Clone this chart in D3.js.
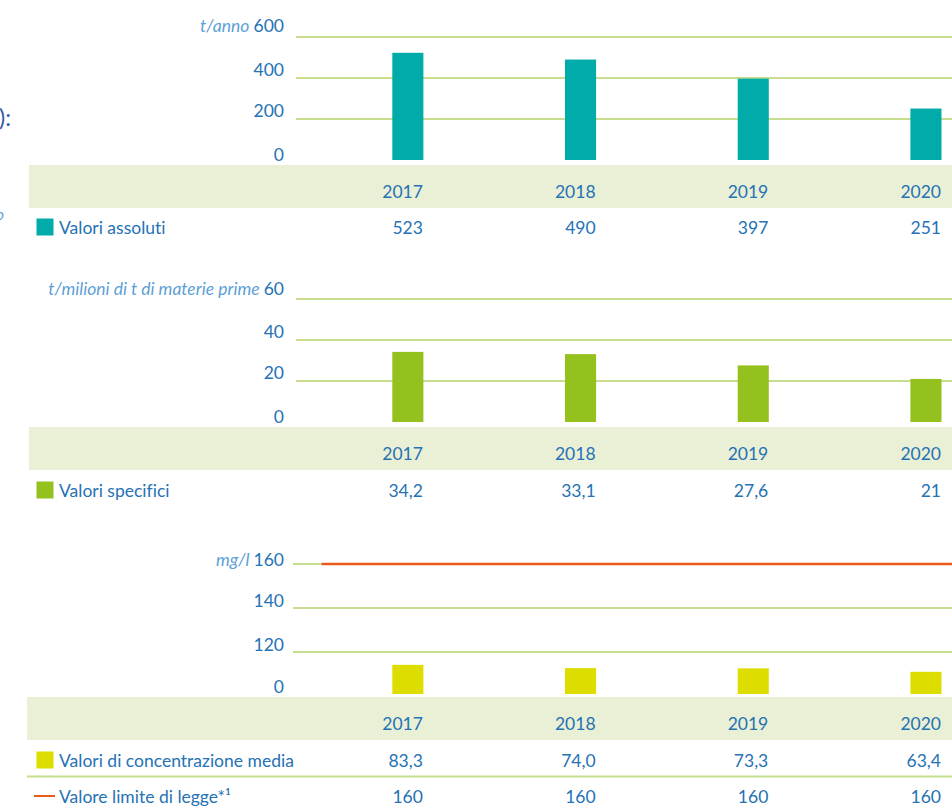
<!DOCTYPE html>
<html>
<head>
<meta charset="utf-8">
<script src="https://cdn.jsdelivr.net/npm/d3@7"></script>
<style>
  html, body { margin: 0; padding: 0; background: #ffffff; }
  svg { display: block; }
  text { font-family: Lato, "Open Sans", sans-serif; font-variant-ligatures: none; font-feature-settings: "liga" 0, "clig" 0; }
</style>
</head>
<body>
<svg id="chart" width="952" height="809"></svg>
<script>
// Categories
const years = ["2017", "2018", "2019", "2020"];

// Absolute emissions (t/anno)
const absValues = [523, 490, 397, 251];
const absTicks = [0, 200, 400, 600];

// Specific emissions (t per million t of raw materials)
const specValues = [34.2, 33.1, 27.6, 21];
const specTicks = [0, 20, 40, 60];

// Average concentration (mg/l) and legal limit
const concValues = [83.3, 74.0, 73.3, 63.4];
const limitValues = [160, 160, 160, 160];
const concTicks = [0, 120, 140, 160];

const W = 952;
const TEXT = "#2572b4";
const UNIT = "#5e9fd6";
const GRID = "#c6de8e";
const BAND = "#e9f0d6";
const FS = "17.5px";

const it = d3.formatLocale({ decimal: ",", thousands: ".", grouping: [3], currency: ["", " €"] });
const fmtInt = it.format("d");
const fmtTrim = it.format(".1~f");
const fmtOne = it.format(".1f");

const svg = d3.select("#chart");

// Shared horizontal scale for the four years
const x = d3.scaleBand()
  .domain(years)
  .range([321.5, 1012.3])
  .paddingInner(0.82)
  .paddingOuter(0.41);

// Fragment of the section heading on the left edge
svg.append("text")
  .attr("x", 11).attr("y", 126)
  .attr("text-anchor", "end")
  .attr("fill", "#2e5aa8")
  .style("font-size", "23px")
  .text("2020):");
svg.append("text")
  .attr("x", 4).attr("y", 220)
  .attr("text-anchor", "end")
  .attr("fill", UNIT)
  .style("font-size", "16px")
  .style("font-style", "italic")
  .text("o");

function panel(cfg) {
  const g = svg.append("g");
  const y = d3.scaleLinear().domain(cfg.domain).range(cfg.range);

  // gridlines (no line at zero)
  g.selectAll("line.grid")
    .data(cfg.ticks.filter(t => t !== 0))
    .join("line")
    .attr("class", "grid")
    .attr("x1", cfg.gridX0).attr("x2", W)
    .attr("y1", d => y(d)).attr("y2", d => y(d))
    .attr("stroke", GRID).attr("stroke-width", 2);

  // tick labels
  g.selectAll("text.tick")
    .data(cfg.ticks)
    .join("text")
    .attr("class", "tick")
    .attr("x", 284)
    .attr("y", d => y(d) + cfg.labelDy(d))
    .attr("text-anchor", "end")
    .attr("fill", TEXT)
    .style("font-size", FS)
    .text(d => d);

  // unit label before the top tick
  const top = cfg.ticks[cfg.ticks.length - 1];
  g.append("text")
    .attr("x", 284 - String(top).length * 10.2 - 4)
    .attr("y", y(top) + cfg.labelDy(top))
    .attr("text-anchor", "end")
    .attr("fill", UNIT)
    .style("font-size", FS)
    .style("font-style", "italic")
    .text(cfg.unit);

  // bars
  g.selectAll("rect.bar")
    .data(cfg.values)
    .join("rect")
    .attr("class", "bar")
    .attr("x", (d, i) => x(years[i]))
    .attr("width", x.bandwidth())
    .attr("y", d => y(d))
    .attr("height", d => y(0) - y(d))
    .attr("fill", cfg.color);

  // category band with years
  g.append("rect")
    .attr("x", cfg.bandX).attr("y", cfg.bandY)
    .attr("width", W - cfg.bandX).attr("height", 43)
    .attr("fill", BAND);
  g.selectAll("text.year")
    .data(years)
    .join("text")
    .attr("class", "year")
    .attr("x", d => x(d) + x.bandwidth() - 0.5)
    .attr("y", cfg.bandY + 33)
    .attr("text-anchor", "end")
    .attr("fill", TEXT)
    .style("font-size", FS)
    .text(d => d);

  return { g, y };
}

function legendRow(g, yc, label, values, fmt, swatch) {
  swatch(g, yc);
  g.append("text")
    .attr("x", 59).attr("y", yc + 6.5)
    .attr("fill", TEXT)
    .style("font-size", FS)
    .text(label);
  g.selectAll(null)
    .data(values)
    .join("text")
    .attr("x", (d, i) => x(years[i]) + x.bandwidth() - 0.5)
    .attr("y", yc + 6.5)
    .attr("text-anchor", "end")
    .attr("fill", TEXT)
    .style("font-size", FS)
    .text(d => fmt(d));
}

const square = color => (g, yc) =>
  g.append("rect").attr("x", 36.5).attr("y", yc - 8.5)
    .attr("width", 17).attr("height", 17).attr("fill", color);

// Panel 1: absolute values
const p1 = panel({
  domain: [0, 600], range: [160, 37], ticks: absTicks,
  labelDy: d => d === 600 ? -5 : (d === 0 ? 1 : -2.5),
  unit: "t/anno", values: absValues, color: "#00aba9",
  gridX0: 296, bandX: 29, bandY: 165
});
legendRow(p1.g, 227, "Valori assoluti", absValues, fmtInt, square("#00aba9"));

// Panel 2: specific values
const p2 = panel({
  domain: [0, 60], range: [422, 299], ticks: specTicks,
  labelDy: d => d === 60 ? -4 : (d === 0 ? 1 : -2),
  unit: "t/milioni di t di materie prime", values: specValues, color: "#95c11f",
  gridX0: 296, bandX: 29, bandY: 427
});
legendRow(p2.g, 490, "Valori specifici", specValues, fmtTrim, square("#95c11f"));

// Panel 3: average concentration on a broken axis
const p3 = panel({
  domain: [0, 120, 140, 160], range: [694, 652, 608, 564], ticks: concTicks,
  labelDy: d => d === 160 ? 2 : -1,
  unit: "mg/l", values: concValues, color: "#dedd00",
  gridX0: 293, bandX: 27, bandY: 697
});

// legal limit line across the plot
const limitPts = [[x.range()[0], limitValues[0]]]
  .concat(years.map((yr, i) => [x(yr) + x.bandwidth() / 2, limitValues[i]]))
  .concat([[W, limitValues[limitValues.length - 1]]]);
p3.g.append("path")
  .datum(limitPts)
  .attr("d", d3.line().x(d => d[0]).y(d => p3.y(d[1])))
  .attr("fill", "none")
  .attr("stroke", "#ea5a1b")
  .attr("stroke-width", 2.5);

legendRow(p3.g, 760, "Valori di concentrazione media", concValues, fmtOne, square("#dedd00"));
p3.g.append("line")
  .attr("x1", 27).attr("x2", W)
  .attr("y1", 776.5).attr("y2", 776.5)
  .attr("stroke", GRID).attr("stroke-width", 2);
legendRow(p3.g, 796, "Valore limite di legge*\u00b9", limitValues, fmtInt, (g, yc) =>
  g.append("line").attr("x1", 34).attr("x2", 55)
    .attr("y1", yc).attr("y2", yc)
    .attr("stroke", "#ea5a1b").attr("stroke-width", 2));
</script>
</body>
</html>
